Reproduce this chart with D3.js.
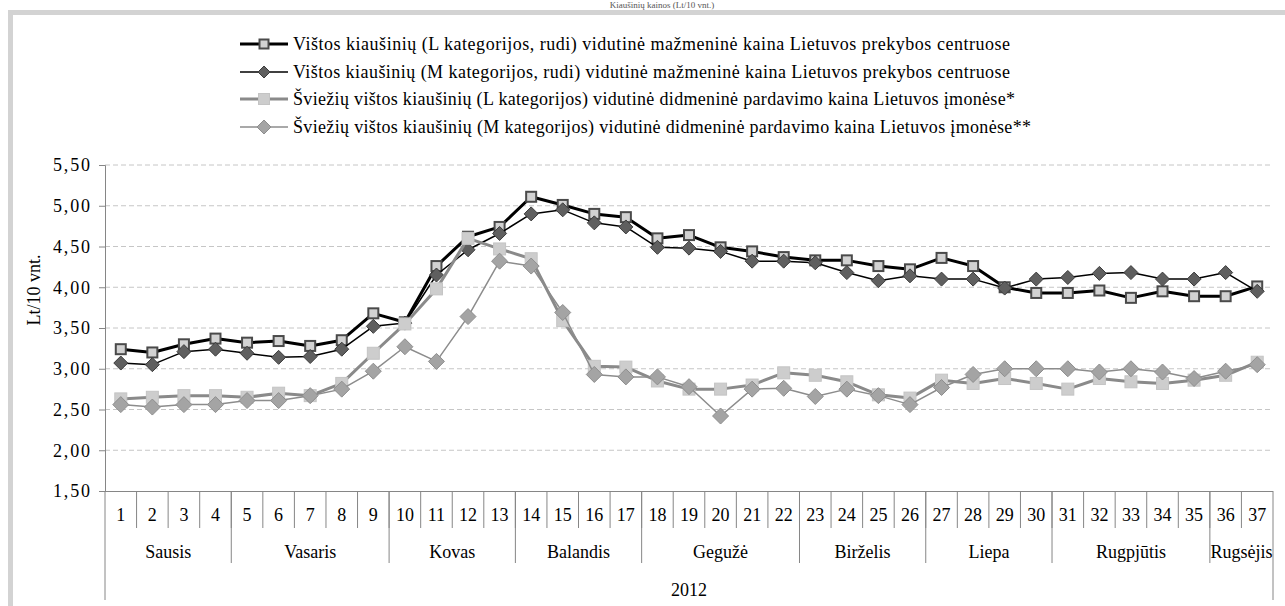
<!DOCTYPE html>
<html>
<head>
<meta charset="utf-8">
<script src="https://cdn.jsdelivr.net/npm/d3@7"></script>
<style>
  body { margin: 0; background: #fff; }
</style>
</head>
<body>
<script>
var weeks = d3.range(1, 38);
var monthNames = ['Sausis', 'Vasaris', 'Kovas', 'Balandis', 'Gegužė', 'Birželis', 'Liepa', 'Rugpjūtis', 'Rugsėjis'];
var monthWeeks = [4, 5, 4, 4, 5, 4, 4, 5, 2];
var yearLabel = '2012';
var yTicks = [1.5, 2, 2.5, 3, 3.5, 4, 4.5, 5, 5.5];

var retailL = [3.24, 3.20, 3.30, 3.37, 3.32, 3.34, 3.28, 3.35, 3.68, 3.57,
  4.26, 4.62, 4.74, 5.11, 5.01, 4.90, 4.86, 4.60, 4.64, 4.49,
  4.44, 4.37, 4.33, 4.33, 4.26, 4.22, 4.36, 4.26, 4.00, 3.93,
  3.93, 3.96, 3.87, 3.95, 3.89, 3.89, 4.01];
var retailM = [3.07, 3.05, 3.21, 3.24, 3.19, 3.14, 3.15, 3.24, 3.52, 3.56,
  4.15, 4.46, 4.66, 4.90, 4.95, 4.79, 4.74, 4.49, 4.48, 4.44,
  4.32, 4.32, 4.30, 4.18, 4.08, 4.14, 4.10, 4.10, 3.99, 4.10,
  4.12, 4.17, 4.18, 4.10, 4.10, 4.18, 3.95];
var wholesaleL = [2.63, 2.65, 2.67, 2.67, 2.65, 2.70, 2.67, 2.82, 3.19, 3.55,
  3.98, 4.60, 4.47, 4.35, 3.59, 3.03, 3.02, 2.85, 2.75, 2.75,
  2.80, 2.95, 2.92, 2.84, 2.68, 2.64, 2.86, 2.82, 2.88, 2.82,
  2.75, 2.88, 2.84, 2.82, 2.86, 2.92, 3.08];
var wholesaleM = [2.56, 2.53, 2.56, 2.56, 2.61, 2.61, 2.67, 2.75, 2.97, 3.27,
  3.09, 3.64, 4.32, 4.26, 3.69, 2.93, 2.90, 2.90, 2.78, 2.42,
  2.75, 2.76, 2.66, 2.75, 2.67, 2.56, 2.77, 2.93, 3.00, 3.00,
  3.00, 2.96, 3.00, 2.96, 2.88, 2.97, 3.05];

var seriesNames = [
  'Vištos kiaušinių (L kategorijos, rudi) vidutinė mažmeninė kaina Lietuvos prekybos centruose',
  'Vištos kiaušinių (M kategorijos, rudi) vidutinė mažmeninė kaina Lietuvos prekybos centruose',
  'Šviežių vištos kiaušinių (L kategorijos) vidutinė didmeninė pardavimo kaina Lietuvos įmonėse*',
  'Šviežių vištos kiaušinių (M kategorijos) vidutinė didmeninė pardavimo kaina Lietuvos įmonėse**'
];
var legendWidths = [717, 717, 722, 738];

var styles = [
  { values: retailL, line: '#000', lw: 3, shape: 'square', size: 10, fill: '#d2d2d2', stroke: '#4a4a4a', sw: 2 },
  { values: retailM, line: '#000', lw: 1.5, shape: 'diamond', size: 7, fill: '#5f5f5f', stroke: '#3c3c3c', sw: 1 },
  { values: wholesaleL, line: '#8a8a8a', lw: 3, shape: 'square', size: 12, fill: '#cdcdcd', stroke: '#c4c4c4', sw: 1 },
  { values: wholesaleM, line: '#8c8c8c', lw: 1.5, shape: 'diamond', size: 8, fill: '#a4a4a4', stroke: '#8e8e8e', sw: 1 }
];

var FONT = 'Liberation Serif';
var W = 1285, H = 606;
var svg = d3.select('body').append('svg')
  .attr('width', W)
  .attr('height', H)
  .attr('font-family', FONT);

// title strip above the frame (mostly cropped in the original)
svg.append('text')
  .attr('x', 662)
  .attr('y', 8)
  .attr('text-anchor', 'middle')
  .attr('font-size', 9)
  .attr('fill', '#555')
  .text('Kiaušinių kainos (Lt/10 vnt.)');

// frame bands
svg.append('rect').attr('x', 8).attr('y', 10).attr('width', W - 8).attr('height', 5).attr('fill', '#d3d3d3');
svg.append('rect').attr('x', 8).attr('y', 10).attr('width', 5).attr('height', H - 10).attr('fill', '#d3d3d3');

var x = d3.scaleBand().domain(weeks).range([105, 1273]).padding(0);
var y = d3.scaleLinear().domain([1.5, 5.5]).range([491, 165]);
var cx = function(i) { return x(weeks[i]) + x.bandwidth() / 2; };
var fmt = function(v) { return d3.format('.2f')(v).replace('.', ','); };

// grid
svg.append('g').selectAll('line')
  .data(yTicks.slice(1))
  .enter().append('line')
  .attr('x1', 105).attr('x2', 1273)
  .attr('y1', function(d) { return y(d); })
  .attr('y2', function(d) { return y(d); })
  .attr('stroke', '#c6c6c6')
  .attr('stroke-dasharray', '5,3');

var yAxis = svg.append('g')
  .attr('transform', 'translate(105,0)')
  .call(d3.axisLeft(y).tickValues(yTicks).tickFormat(fmt).tickSize(6).tickPadding(9));
yAxis.attr('font-family', FONT).attr('font-size', 18);
yAxis.select('.domain').attr('stroke', '#868686');
yAxis.selectAll('.tick line').attr('stroke', '#868686');
yAxis.selectAll('.tick text')
  .attr('fill', '#000')
  .attr('textLength', 37)
  .attr('lengthAdjust', 'spacing');

svg.append('text')
  .attr('transform', 'translate(40,290) rotate(-90)')
  .attr('text-anchor', 'middle')
  .attr('font-size', 18)
  .text('Lt/10 vnt.');

// multi-level category axis
var xa = svg.append('g').attr('stroke', '#868686');
xa.append('line').attr('x1', 99).attr('x2', 1273).attr('y1', 491.5).attr('y2', 491.5);
xa.selectAll('.wk').data(weeks.slice(1))
  .enter().append('line')
  .attr('x1', function(d) { return x(d); }).attr('x2', function(d) { return x(d); })
  .attr('y1', 491).attr('y2', 528);

var starts = [];
var acc = 0;
monthWeeks.forEach(function(n) { starts.push(acc); acc += n; });
xa.selectAll('.mb').data(starts.slice(1))
  .enter().append('line')
  .attr('x1', function(d) { return x(weeks[d]); }).attr('x2', function(d) { return x(weeks[d]); })
  .attr('y1', 491).attr('y2', 563);
xa.selectAll('.yb').data([105, 1273])
  .enter().append('line')
  .attr('x1', function(d) { return d; }).attr('x2', function(d) { return d; })
  .attr('y1', 491).attr('y2', 600);

svg.append('g').selectAll('text').data(weeks)
  .enter().append('text')
  .attr('x', function(d, i) { return cx(i); })
  .attr('y', 521)
  .attr('text-anchor', 'middle')
  .attr('font-size', 18)
  .text(function(d) { return d; });

svg.append('g').selectAll('text').data(monthNames)
  .enter().append('text')
  .attr('x', function(d, i) {
    var a = x(weeks[starts[i]]);
    var b = x(weeks[starts[i] + monthWeeks[i] - 1]) + x.bandwidth();
    return (a + b) / 2;
  })
  .attr('y', 558)
  .attr('text-anchor', 'middle')
  .attr('font-size', 18)
  .text(function(d) { return d; });

svg.append('text')
  .attr('x', 689)
  .attr('y', 596)
  .attr('text-anchor', 'middle')
  .attr('font-size', 18)
  .text(yearLabel);

var drawMarker = function(sel, s) {
  if (s.shape === 'square') {
    sel.append('rect')
      .attr('x', -s.size / 2).attr('y', -s.size / 2)
      .attr('width', s.size).attr('height', s.size);
  } else {
    sel.append('path')
      .attr('d', 'M0,' + (-s.size) + 'L' + s.size + ',0L0,' + s.size + 'L' + (-s.size) + ',0Z');
  }
  sel.selectAll('rect,path')
    .attr('fill', s.fill)
    .attr('stroke', s.stroke)
    .attr('stroke-width', s.sw);
};

var line = d3.line()
  .x(function(d, i) { return cx(i); })
  .y(function(d) { return y(d); });

styles.forEach(function(s) {
  var g = svg.append('g');
  g.append('path')
    .attr('d', line(s.values))
    .attr('fill', 'none')
    .attr('stroke', s.line)
    .attr('stroke-width', s.lw)
    .attr('stroke-linejoin', 'round');
  g.selectAll('.m').data(s.values)
    .enter().append('g')
    .attr('transform', function(d, i) { return 'translate(' + cx(i) + ',' + y(d) + ')'; })
    .each(function() { drawMarker(d3.select(this), s); });
});

// legend
var legendY = [44, 72, 99, 127];
styles.forEach(function(s, i) {
  var lg = svg.append('g').attr('transform', 'translate(264,' + legendY[i] + ')');
  lg.append('line')
    .attr('x1', -24).attr('x2', 24)
    .attr('stroke', s.line)
    .attr('stroke-width', s.lw);
  drawMarker(lg.append('g'), { shape: s.shape, size: s.size - 1, fill: s.fill, stroke: s.stroke, sw: s.sw });
  lg.append('text')
    .attr('x', 29)
    .attr('y', 6)
    .attr('font-size', 18)
    .attr('textLength', legendWidths[i])
    .attr('lengthAdjust', 'spacing')
    .text(seriesNames[i]);
});
</script>
</body>
</html>
